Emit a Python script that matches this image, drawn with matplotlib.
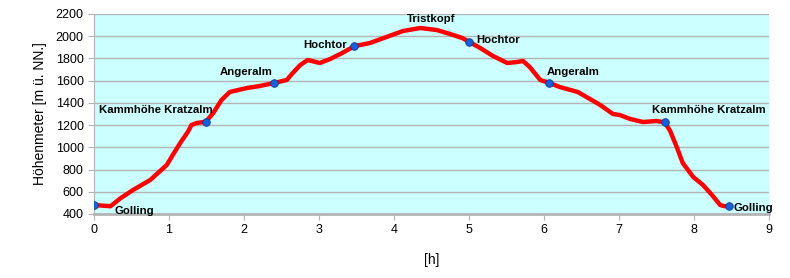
import matplotlib.pyplot as plt

plt.rcParams['font.family'] = ['Liberation Sans', 'DejaVu Sans']

# Höhenprofil (Stunden, Meter)
hours = [0.0, 0.12, 0.22, 0.35, 0.52, 0.75, 0.97, 1.05, 1.15, 1.25, 1.3, 1.37, 1.49,
         1.59, 1.7, 1.81, 2.04, 2.21, 2.4, 2.57, 2.65, 2.75, 2.85, 3.01, 3.15, 3.31,
         3.47, 3.68, 3.9, 4.12, 4.35, 4.57, 4.79, 4.91, 5.0, 5.15, 5.32, 5.51, 5.64,
         5.72, 5.81, 5.95, 6.07, 6.21, 6.45, 6.59, 6.75, 6.92, 7.01, 7.15, 7.32, 7.5,
         7.61, 7.68, 7.77, 7.85, 7.99, 8.12, 8.24, 8.35, 8.41, 8.47]
elev = [480, 475, 470, 540, 616, 706, 841, 931, 1039, 1138, 1201, 1219, 1230,
        1309, 1426, 1498, 1534, 1552, 1579, 1606, 1669, 1741, 1786, 1759, 1795, 1849,
        1910, 1939, 1993, 2047, 2074, 2056, 2011, 1984, 1950, 1894, 1822, 1759, 1768,
        1777, 1723, 1606, 1580, 1543, 1498, 1444, 1381, 1300, 1291, 1255, 1228, 1237,
        1225, 1150, 1003, 859, 733, 661, 571, 480, 470, 470]

# Wegpunkte
wp_h = [0.0, 1.49, 2.4, 3.47, 5.0, 6.07, 7.61, 8.47]
wp_e = [480, 1230, 1580, 1910, 1950, 1580, 1225, 470]
wp_names = ["Golling", "Kammhöhe Kratzalm", "Angeralm", "Hochtor", "Hochtor",
            "Angeralm", "Kammhöhe Kratzalm", "Golling"]
# Textausrichtung der Beschriftungen (Offset in Punkten, ha, va)
wp_pos = [(15, -1, 'left', 'top'), (5, 5, 'right', 'bottom'), (-1, 4, 'right', 'bottom'),
          (-5, 1, 'right', 'center'), (5, 1, 'left', 'center'), (-2, 4, 'left', 'bottom'),
          (-9, 5, 'left', 'bottom'), (3, -1, 'left', 'center')]

fig = plt.figure(figsize=(7.9, 2.78), dpi=100)
ax = fig.add_axes([94/790, 64/278, 675/790, 200/278])
ax.set_facecolor('#ccffff')

ax.plot(hours, elev, color='#ff0000', lw=3.2, solid_joinstyle='round',
        solid_capstyle='round', zorder=3)
ax.scatter(wp_h, wp_e, s=30, color='#1a5fd6', edgecolor='#0b3a99', lw=0.6, zorder=4)

for h, e, name, (dx, dy, ha, va) in zip(wp_h, wp_e, wp_names, wp_pos):
    ax.annotate(name, (h, e), xytext=(dx, dy), textcoords='offset points',
                ha=ha, va=va, fontsize=8.2, fontweight='bold', zorder=5)
ax.annotate("Tristkopf", (4.35, 2074), xytext=(8, 3), textcoords='offset points',
            ha='center', va='bottom', fontsize=8.2, fontweight='bold')

ax.set_xlim(0, 9)
ax.set_ylim(400, 2200)
ax.set_xticks(range(0, 10))
ax.set_yticks(range(400, 2201, 200))
ax.grid(axis='y', color='#b4b4b4', lw=1)
ax.set_axisbelow(True)
for s in ['top', 'right']:
    ax.spines[s].set_visible(False)
ax.spines['left'].set_color('#b4b4b4')
ax.spines['bottom'].set_color('#b4b4b4')
ax.spines['bottom'].set_linewidth(2)
ax.tick_params(colors='#b4b4b4', labelcolor='black', labelsize=9, length=4)

ax.set_xlabel("[h]", fontsize=10, labelpad=12)
ax.set_ylabel("Höhenmeter [m ü. NN.]", fontsize=10, labelpad=6)

fig.savefig("out.png", dpi=100)
